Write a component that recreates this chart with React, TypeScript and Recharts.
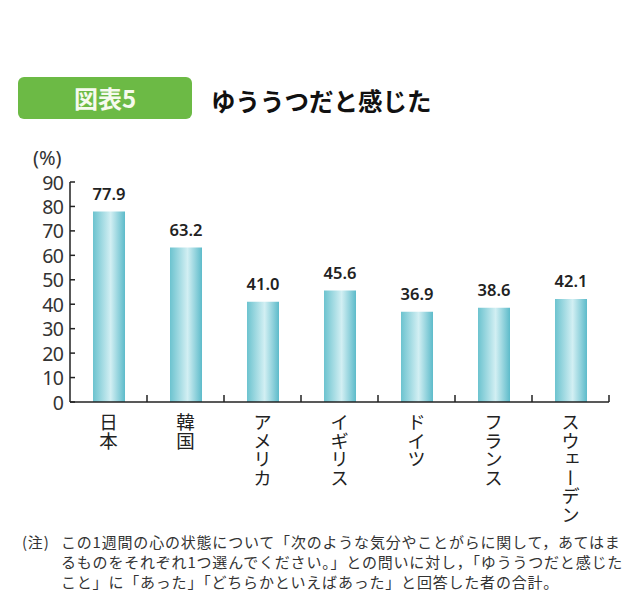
import React from "react";
import { Bar, BarChart, LabelList, XAxis, YAxis } from "recharts";

const countries = ["日本", "韓国", "アメリカ", "イギリス", "ドイツ", "フランス", "スウェーデン"];
const values = [77.9, 63.2, 41.0, 45.6, 36.9, 38.6, 42.1];
const yTicks = [0, 10, 20, 30, 40, 50, 60, 70, 80, 90];
const noteLines = [
  "この1週間の心の状態について「次のような気分やことがらに関して，あてはま",
  "るものをそれぞれ1つ選んでください。」との問いに対し，「ゆううつだと感じた",
  "こと」に「あった」「どちらかといえばあった」と回答した者の合計。",
];

const data = countries.map((name, i) => ({ name, value: values[i] }));

const PLOT_LEFT = 70;
const PLOT_RIGHT = 609;
const BAND = (PLOT_RIGHT - PLOT_LEFT) / countries.length;
const INK = "#222";

function YTick(props: any) {
  const { x, y, payload } = props;
  const ax = x + 7;
  return (
    <g>
      <line x1={ax} x2={ax + 5} y1={y} y2={y} stroke={INK} strokeWidth={1.5} />
      <text
        x={x}
        y={y}
        textAnchor="end"
        dominantBaseline="central"
        fontFamily="'Noto Sans', sans-serif"
        fontSize={19.5}
        letterSpacing={-0.8}
        fill="#333"
      >
        {payload.value}
      </text>
    </g>
  );
}

function XTick(props: any) {
  const { x, y, payload } = props;
  const bx = x + BAND / 2;
  return (
    <g>
      <line x1={bx} x2={bx} y1={y} y2={y - 7} stroke={INK} strokeWidth={1.5} />
      <text
        x={x}
        y={y + 11}
        textAnchor="start"
        style={{ writingMode: "vertical-rl" }}
        fontFamily="'Noto Sans CJK JP', sans-serif"
        fontSize={18.5}
        fill={INK}
      >
        {payload.value}
      </text>
    </g>
  );
}

export default function App() {
  return (
    <div style={{ position: "absolute", left: 0, top: 0, width: 640, height: 615, background: "#fff", overflow: "hidden" }}>
      <div
        style={{
          position: "absolute",
          left: 18,
          top: 77,
          width: 174,
          height: 42,
          background: "#6cba45",
          borderRadius: 6,
          color: "#f6faee",
          fontFamily: "'Noto Sans CJK JP', sans-serif",
          fontWeight: 700,
          fontSize: 24,
          lineHeight: "42px",
          textAlign: "center",
        }}
      >
        図表5
      </div>
      <div
        style={{
          position: "absolute",
          left: 211,
          top: 84,
          fontFamily: "'Noto Sans CJK JP', sans-serif",
          fontWeight: 700,
          fontSize: 24.5,
          lineHeight: "34px",
          color: "#111",
          whiteSpace: "nowrap",
        }}
      >
        ゆううつだと感じた
      </div>
      <div
        style={{
          position: "absolute",
          left: 33,
          top: 144,
          fontFamily: "'Noto Sans', sans-serif",
          fontSize: 20,
          color: "#333",
        }}
      >
        (%)
      </div>
      <BarChart
        width={640}
        height={530}
        data={data}
        margin={{ top: 182, right: 640 - PLOT_RIGHT, bottom: 0, left: 0 }}
        barCategoryGap={0}
        style={{ position: "absolute", left: 0, top: 0 }}
      >
        <defs>
          <linearGradient id="barGrad" x1="0" y1="0" x2="1" y2="0">
            <stop offset="0%" stopColor="#6cc3cf" />
            <stop offset="55%" stopColor="#d2eff3" />
            <stop offset="100%" stopColor="#5dbbca" />
          </linearGradient>
        </defs>
        <YAxis
          width={PLOT_LEFT}
          domain={[0, 90]}
          ticks={yTicks}
          interval={0}
          tickSize={0}
          tickMargin={7}
          tickLine={false}
          axisLine={{ stroke: INK, strokeWidth: 1.5 }}
          tick={<YTick />}
        />
        <XAxis
          dataKey="name"
          height={128}
          interval={0}
          tickSize={0}
          tickMargin={0}
          tickLine={false}
          axisLine={{ stroke: INK, strokeWidth: 1.5 }}
          tick={<XTick />}
        />
        <Bar dataKey="value" fill="url(#barGrad)" barSize={32} isAnimationActive={false}>
          <LabelList
            dataKey="value"
            position="top"
            offset={12}
            formatter={(v: any) => Number(v).toFixed(1)}
            style={{ fontFamily: "'Noto Sans', sans-serif", fontWeight: 600, fontSize: 16.5, fill: INK }}
          />
        </Bar>
      </BarChart>
      <div
        style={{
          position: "absolute",
          left: 22,
          top: 532,
          fontFamily: "'Noto Sans CJK JP', sans-serif",
          fontSize: 15,
          lineHeight: "20px",
          letterSpacing: 0.8,
          color: "#333",
          whiteSpace: "nowrap",
        }}
      >
        <div style={{ position: "absolute", left: 0, top: 0 }}>(注)</div>
        <div style={{ position: "absolute", left: 39, top: 0 }}>
          {noteLines.map((line, i) => (
            <div key={i}>{line}</div>
          ))}
        </div>
      </div>
    </div>
  );
}
